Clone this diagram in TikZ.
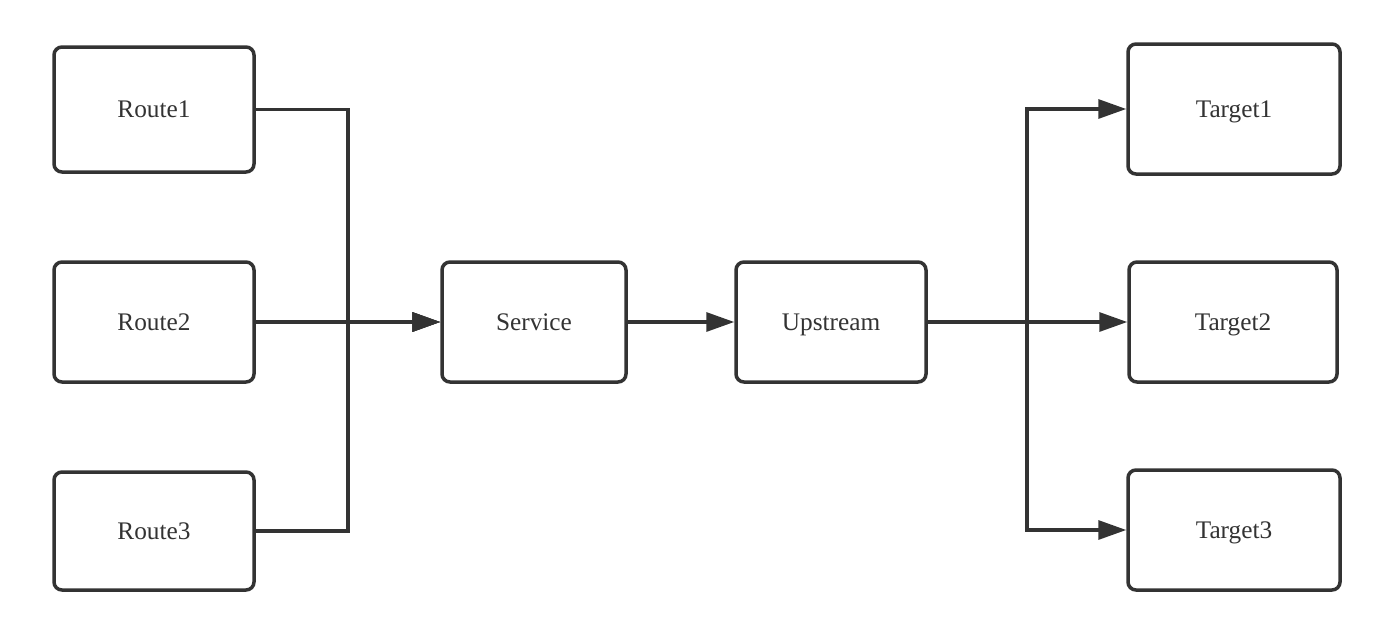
\documentclass[tikz,border=0pt]{standalone}
\usepackage{fontspec}
\setmainfont{Liberation Serif}
\usetikzlibrary{arrows.meta}
\definecolor{ink}{HTML}{333333}
\begin{document}
\begin{tikzpicture}[x=1pt,y=-1pt,
  box/.style={draw=ink, line width=3.5pt, rounded corners=8pt, fill=white,
    text=ink, font=\fontsize{25.3}{29}\selectfont, inner sep=0pt,
    text height=16.5pt, text depth=0pt},
  conn/.style={draw=ink, line width=3.2pt},
  arr/.style={conn, -{Triangle[length=28pt,width=19pt]}}]
\fill[white] (0,0) rectangle (1388,640);
\useasboundingbox (0,0) rectangle (1388,640);
\node[box, minimum width=200pt, minimum height=125pt] (r1) at (154,109.5) {Route1};
\node[box, minimum width=200pt, minimum height=120pt] (r2) at (154,322) {Route2};
\node[box, minimum width=200pt, minimum height=118pt] (r3) at (154,531) {Route3};
\node[box, minimum width=184pt, minimum height=120pt] (svc) at (534,322) {Service};
\node[box, minimum width=190pt, minimum height=120pt] (up) at (831,322) {Upstream};
\node[box, minimum width=212pt, minimum height=130pt] (t1) at (1234,109) {Target1};
\node[box, minimum width=208pt, minimum height=120pt] (t2) at (1233,322) {Target2};
\node[box, minimum width=212pt, minimum height=120pt] (t3) at (1234,530) {Target3};
\coordinate (jl) at (348,322);
\coordinate (jr) at (1027,322);
\draw[arr] (r1.east) -| (jl) -- (svc.west);
\draw[arr] (r3.east) -| (jl) -- (svc.west);
\draw[arr] (r2.east) -- (svc.west);
\draw[arr] (svc.east) -- (up.west);
\draw[arr] (up.east) -- (jr) |- (t1.west);
\draw[arr] (jr) |- (t3.west);
\draw[arr] (up.east) -- (t2.west);
\end{tikzpicture}
\end{document}
